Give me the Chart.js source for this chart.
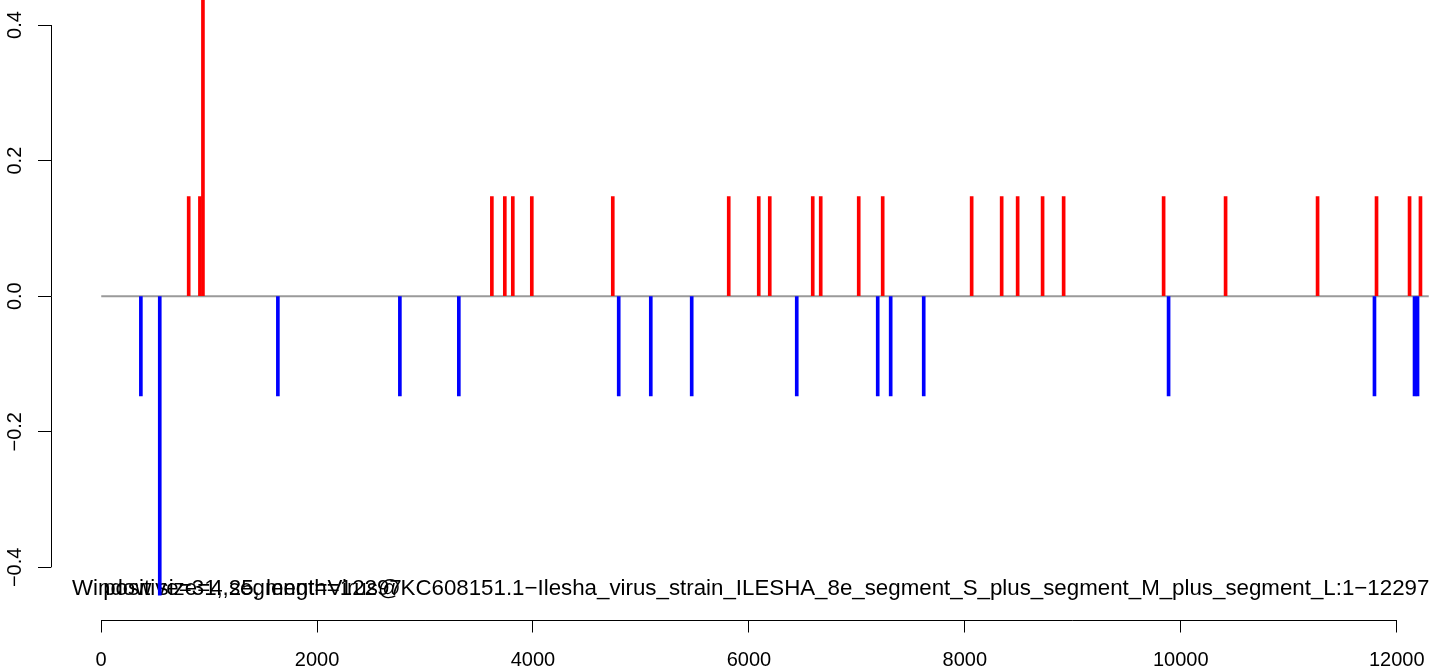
<!DOCTYPE html>
<html>
<head>
<meta charset="utf-8">
<script src="https://cdn.jsdelivr.net/npm/chart.js@4.4.1/dist/chart.umd.min.js"></script>
<style>
  body { margin: 0; background: #fff; }
  canvas { display: block; }
</style>
</head>
<body>
<canvas id="chart" width="1444" height="667"></canvas>
<script>
// window positions (nt) with a positive score, and their scores
const redPositions = [811, 915, 943, 3619, 3739, 3813, 3989, 4739, 5813, 6091, 6193, 6591, 6665, 7017, 7239,
  8063, 8341, 8489, 8720, 8915, 9841, 10415, 11267, 11813, 12119, 12220];
const redValues = [0.147, 0.147, 0.441, 0.147, 0.147, 0.147, 0.147, 0.147, 0.147, 0.147, 0.147, 0.147, 0.147,
  0.147, 0.147, 0.147, 0.147, 0.147, 0.147, 0.147, 0.147, 0.147, 0.147, 0.147, 0.147, 0.147];

// negative windows
const bluePositions = [368, 543, 1637, 2767, 3313, 4794, 5091, 5470, 6443, 7193, 7313, 7619, 9887, 11794, 12165, 12193];
const blueValues = [-0.147, -0.441, -0.147, -0.147, -0.147, -0.147, -0.147, -0.147, -0.147, -0.147, -0.147,
  -0.147, -0.147, -0.147, -0.147, -0.147];

// sequence span for the zero line
const seqStart = 1, seqEnd = 12297;

const xTicks = [0, 2000, 4000, 6000, 8000, 10000, 12000];
const yTicks = [-0.4, -0.2, 0, 0.2, 0.4];

const labelA = 'Window size=4,25, length=12297';
const labelB = 'positive=31, segment=Virus@KC608151.1\u2212Ilesha_virus_strain_ILESHA_8e_segment_S_plus_segment_M_plus_segment_L:1\u221212297';

Chart.defaults.font.family = "'Liberation Sans', Arial, sans-serif";
Chart.defaults.font.size = 20;
Chart.defaults.color = '#000';

// no extra room for tick labels, the area is set by hand
function noPad(s) {
  s.paddingTop = 0; s.paddingBottom = 0; s.paddingLeft = 0; s.paddingRight = 0;
}

// R style axes: line only from first to last tick, plus the overlapping caption
const rAxes = {
  id: 'rAxes',
  beforeDatasetsDraw(chart) {
    const ctx = chart.ctx, x = chart.scales.x;
    ctx.save();
    ctx.fillStyle = '#000';
    ctx.font = "22.3px 'Liberation Sans', Arial, sans-serif";
    ctx.textBaseline = 'alphabetic';
    ctx.fillText(labelA, 72, 595);
    ctx.fillText(labelB, x.getPixelForValue(0) + 2, 595);
    ctx.restore();
  },
  afterDraw(chart) {
    const ctx = chart.ctx, x = chart.scales.x, y = chart.scales.y;
    const area = chart.chartArea;
    ctx.save();
    ctx.strokeStyle = '#000';
    ctx.lineWidth = 1;
    ctx.beginPath();
    const ax = Math.round(area.left) + 0.5;
    ctx.moveTo(ax, y.getPixelForValue(yTicks[0]));
    ctx.lineTo(ax, y.getPixelForValue(yTicks[yTicks.length - 1]));
    const ay = Math.round(area.bottom) + 0.5;
    ctx.moveTo(x.getPixelForValue(xTicks[0]), ay);
    ctx.lineTo(x.getPixelForValue(xTicks[xTicks.length - 1]), ay);
    ctx.stroke();
    ctx.restore();
  }
};

new Chart(document.getElementById('chart'), {
  type: 'bar',
  data: {
    datasets: [
      {
        type: 'line',
        data: [{ x: seqStart, y: 0 }, { x: seqEnd, y: 0 }],
        borderColor: '#9a9a9a',
        borderWidth: 2,
        pointRadius: 0,
        order: 3
      },
      {
        data: redPositions.map((p, i) => ({ x: p, y: redValues[i] })),
        backgroundColor: '#ff0000',
        barThickness: 3,
        stack: 's',
        order: 1
      },
      {
        data: bluePositions.map((p, i) => ({ x: p, y: blueValues[i] })),
        backgroundColor: '#0000ff',
        barThickness: 3,
        stack: 's',
        order: 1
      }
    ]
  },
  options: {
    responsive: false,
    animation: false,
    devicePixelRatio: 1,
    layout: { padding: 0 },
    plugins: { legend: { display: false }, tooltip: { enabled: false } },
    scales: {
      x: {
        type: 'linear',
        stacked: true,
        offset: false,
        min: -469,
        max: 12438,
        afterFit: s => { s.height = 47.5; noPad(s); },
        afterBuildTicks: s => { s.ticks = xTicks.map(v => ({ value: v })); },
        border: { display: false },
        grid: { offset: false, drawOnChartArea: false, drawTicks: true, tickLength: 13, color: '#000', lineWidth: 1 },
        ticks: { padding: 16, maxRotation: 0, autoSkip: false, callback: v => String(v) }
      },
      y: {
        stacked: false,
        min: -0.4769,
        max: 0.4369,
        afterFit: s => { s.width = 50.5; noPad(s); },
        afterBuildTicks: s => { s.ticks = yTicks.map(v => ({ value: v })); },
        border: { display: false },
        grid: { drawOnChartArea: false, drawTicks: true, tickLength: 12.5, color: '#000', lineWidth: 1 },
        ticks: {
          minRotation: 90, maxRotation: 90, crossAlign: 'center', padding: 3, autoSkip: false,
          callback: v => (v < 0 ? '\u2212' : '') + Math.abs(v).toFixed(1)
        }
      }
    }
  },
  plugins: [rAxes]
});
</script>
</body>
</html>
